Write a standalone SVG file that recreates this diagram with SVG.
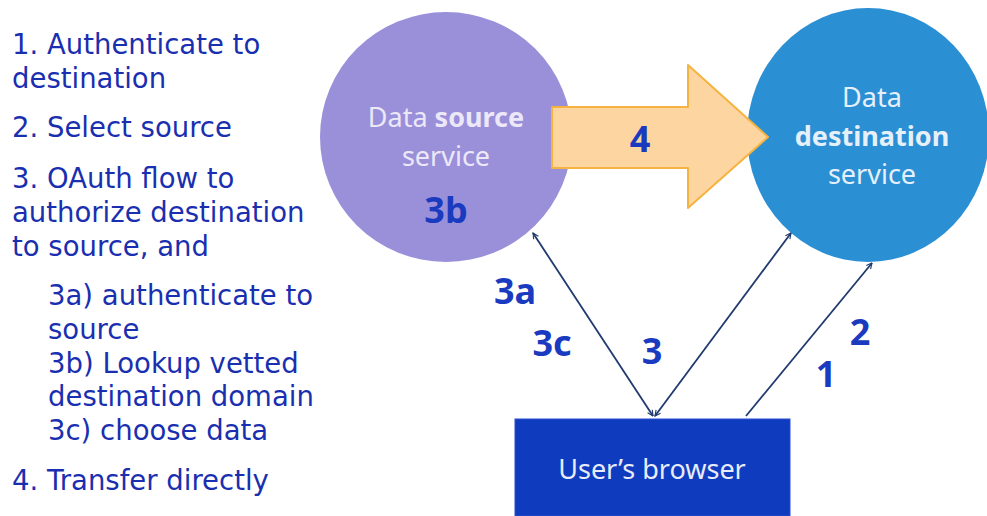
<svg xmlns="http://www.w3.org/2000/svg" width="987" height="516" viewBox="0 0 987 516">
<defs>
<marker id="ah" viewBox="0 0 10 10" refX="9" refY="5" markerWidth="7" markerHeight="7" orient="auto-start-reverse" markerUnits="userSpaceOnUse">
<path d="M1,1 L9,5 L1,9" fill="none" stroke="#1f3a6e" stroke-width="1.6"/>
</marker>
<style>
.list{font-family:"DejaVu Sans","Noto Sans",sans-serif;font-size:27.5px;fill:#1a2fb0}
.num{font-family:"Noto Sans","Open Sans",sans-serif;font-weight:bold;font-size:36px;fill:#1a3bbf}
.ctext{font-family:"Noto Sans","Open Sans",sans-serif;font-size:27px;text-anchor:middle}
.conn{stroke:#1f3a6e;stroke-width:1.8;fill:none}
</style>
</defs>
<rect width="987" height="516" fill="#ffffff"/>
<g id="steps">
<text class="list" x="12" y="54">1. Authenticate to</text>
<text class="list" x="12" y="88">destination</text>
<text class="list" x="12" y="137">2. Select source</text>
<text class="list" x="12" y="188">3. OAuth flow to</text>
<text class="list" x="12" y="222">authorize destination</text>
<text class="list" x="12" y="256">to source, and</text>
<text class="list" x="48" y="305">3a) authenticate to</text>
<text class="list" x="48" y="339">source</text>
<text class="list" x="48" y="373">3b) Lookup vetted</text>
<text class="list" x="48" y="406">destination domain</text>
<text class="list" x="48" y="440">3c) choose data</text>
<text class="list" x="12" y="490">4. Transfer directly</text>
</g>
<g id="source">
<ellipse cx="446" cy="137" rx="126" ry="125" fill="#9a90da"/>
<text class="ctext" x="446" y="127" fill="#ece8f8">Data <tspan font-weight="bold">source</tspan></text>
<text class="ctext" x="446" y="166" fill="#ece8f8">service</text>
<text class="num" x="446" y="223" text-anchor="middle">3b</text>
</g>
<g id="destination">
<ellipse cx="868" cy="135" rx="121" ry="127" fill="#2b8fd4"/>
<text class="ctext" x="872" y="107" fill="#e6f0fa">Data</text>
<text class="ctext" x="872" y="146" fill="#e6f0fa" font-weight="bold">destination</text>
<text class="ctext" x="872" y="184" fill="#e6f0fa">service</text>
</g>
<g id="transfer">
<path d="M552,107 L688,107 L688,65 L768,137 L688,208 L688,168 L552,168 Z" fill="#fdd5a0" stroke="#f5b342" stroke-width="2" stroke-linejoin="round"/>
<text class="num" x="640" y="152" text-anchor="middle">4</text>
</g>
<g id="browser">
<rect x="515" y="419" width="275" height="97" fill="#0f3bbf" stroke="#2a4fd0" stroke-width="1"/>
<text class="ctext" x="652" y="479" fill="#e8ecfa">User’s browser</text>
</g>
<g id="connectors">
<line class="conn" x1="653" y1="416" x2="533" y2="233" marker-start="url(#ah)" marker-end="url(#ah)"/>
<line class="conn" x1="655" y1="416" x2="791" y2="233" marker-start="url(#ah)" marker-end="url(#ah)"/>
<line class="conn" x1="746" y1="416" x2="872" y2="263" marker-end="url(#ah)"/>
</g>
<g id="labels">
<text class="num" x="515" y="304" text-anchor="middle">3a</text>
<text class="num" x="552" y="356" text-anchor="middle">3c</text>
<text class="num" x="652" y="364" text-anchor="middle">3</text>
<text class="num" x="860" y="345" text-anchor="middle">2</text>
<text class="num" x="826" y="387" text-anchor="middle">1</text>
</g>
</svg>
